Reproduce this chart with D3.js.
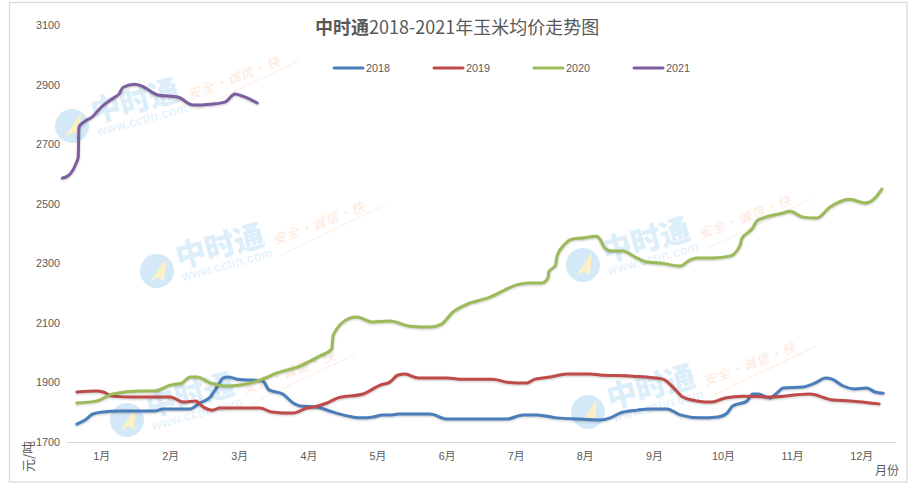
<!DOCTYPE html>
<html>
<head>
    <meta charset="utf-8">
    <title>中时通2018-2021年玉米均价走势图</title>
    <script src="https://cdn.jsdelivr.net/npm/d3@7"></script>
    <style>
    html, body { margin: 0; padding: 0; background: #fff; }
    svg { display: block; }
    text { font-family: "Liberation Sans", "Noto Sans CJK SC", sans-serif; fill: #595959; }
    .cjk { font-family: "Noto Sans CJK SC", sans-serif; }
    .line {
        fill: none;
        stroke-width: 3px;
        stroke-linejoin: round;
        stroke-linecap: round;
        filter: drop-shadow(0 1.5px 1px rgba(0,0,0,0.22));
    }
    .axis path { stroke: #d9d9d9; stroke-width: 1.2px; }
    .axis text { font-size: 10.8px; fill: #595959; }
    </style>
</head>
<body>
  <script>

  // x values are positions on the month axis, 1 = middle of January
  var months = [1, 2, 3, 4, 5, 6, 7, 8, 9, 10, 11, 12];
  var yTicks = [1700, 1900, 2100, 2300, 2500, 2700, 2900, 3100];
  var years = ['2018', '2019', '2020', '2021'];
  var colors = ['#4a7ebb', '#be4b48', '#9bbb59', '#7d5fa0'];

  var x2018 = [0.65,0.77,0.88,1.03,1.27,1.67,1.78,1.90,2.29,2.43,2.58,2.68,2.77,2.84,2.97,3.34,3.43,3.63,3.78,3.88,4.13,4.31,4.50,4.75,4.94,5.08,5.21,5.30,5.76,6.01,6.87,7.11,7.31,7.60,7.89,8.22,8.37,8.51,8.76,8.94,9.19,9.38,9.67,9.93,10.06,10.14,10.35,10.43,10.51,10.68,10.78,10.87,11.16,11.36,11.48,11.58,11.74,11.91,12.08,12.20,12.32];
  var price2018 = [1760,1774,1794,1801,1804,1804,1804,1811,1811,1831,1851,1885,1915,1918,1911,1905,1875,1861,1831,1821,1817,1804,1791,1781,1784,1791,1791,1794,1794,1777,1777,1791,1791,1781,1777,1774,1781,1797,1807,1811,1811,1791,1781,1784,1797,1821,1838,1861,1861,1848,1864,1881,1885,1901,1915,1911,1888,1878,1881,1868,1864];

  var x2019 = [0.65,0.94,1.03,1.17,1.46,2.00,2.19,2.37,2.48,2.61,2.72,3.30,3.47,3.78,3.98,4.07,4.27,4.43,4.79,5.04,5.18,5.30,5.40,5.59,6.01,6.19,6.67,6.87,7.16,7.28,7.50,7.74,8.08,8.22,8.70,9.13,9.26,9.42,9.62,9.84,10.03,10.29,10.68,11.26,11.59,11.84,12.26];
  var price2019 = [1868,1871,1868,1854,1851,1851,1834,1838,1817,1807,1814,1814,1801,1797,1814,1817,1831,1848,1861,1891,1901,1925,1928,1915,1915,1911,1911,1901,1898,1911,1918,1928,1928,1925,1921,1911,1888,1851,1838,1834,1848,1854,1851,1861,1841,1838,1828];

  var x2020 = [0.65,0.94,1.17,1.56,1.78,2.00,2.17,2.29,2.39,2.58,2.82,3.01,3.30,3.55,3.88,4.17,4.34,4.36,4.60,4.70,4.92,5.18,5.47,5.76,5.93,6.09,6.30,6.59,7.06,7.21,7.38,7.47,7.48,7.58,7.60,7.71,7.81,7.97,8.17,8.22,8.29,8.39,8.55,8.73,8.90,9.09,9.38,9.52,9.62,9.86,10.10,10.25,10.27,10.43,10.49,10.58,10.87,10.97,11.16,11.36,11.55,11.84,12.05,12.20,12.30];
  var price2020 = [1831,1838,1861,1871,1871,1891,1898,1918,1918,1898,1888,1891,1908,1932,1955,1989,2012,2059,2116,2120,2103,2106,2089,2086,2096,2136,2163,2183,2230,2234,2234,2250,2271,2294,2324,2364,2381,2385,2391,2381,2351,2341,2341,2321,2304,2301,2291,2311,2318,2318,2324,2361,2381,2418,2442,2452,2469,2475,2455,2452,2489,2515,2502,2519,2549];

  var x2021 = [0.44,0.52,0.64,0.67,0.68,0.75,0.87,0.99,1.20,1.26,1.32,1.49,1.59,1.82,2.11,2.33,2.58,2.79,2.94,3.05,3.26];
  var price2021 = [2586,2593,2636,2656,2757,2774,2791,2821,2858,2868,2891,2901,2895,2865,2858,2831,2834,2841,2868,2861,2838];

  var xValues = [x2018, x2019, x2020, x2021];
  var priceValues = [price2018, price2019, price2020, price2021];

  // centre of each logo watermark
  var marks = [[72, 126], [157, 271], [583, 265], [127, 420], [588, 412]];

  var width = 913, height = 489;

  var svg = d3.select('body').append('svg')
      .attr('width', width)
      .attr('height', height);

  var x = d3.scaleLinear().domain([0.5, 12.5]).range([66.5, 895.7]);
  var y = d3.scaleLinear().domain([1700, 3100]).range([442, 25]);

  // outer frame
  svg.append('rect')
      .attr('x', 9.5).attr('y', 2.5)
      .attr('width', 897.5).attr('height', 479.5)
      .attr('fill', '#fff')
      .attr('stroke', '#d9d9d9')
      .attr('stroke-width', 1.2);

  // watermarks sit behind the lines
  var mark = svg.selectAll('.mark').data(marks).enter().append('g')
      .attr('class', 'mark')
      .attr('transform', function(d) { return 'translate(' + d[0] + ',' + d[1] + ')'; });

  mark.append('circle').attr('r', 17).attr('fill', '#d3e9f7');
  mark.append('path').attr('d', 'M9,-13 L-7,11 L1,6 L7,10 Z').attr('fill', '#fcf0c6');
  mark.append('text').attr('class', 'cjk')
      .attr('transform', 'translate(22,-3) rotate(-15)')
      .style('font-size', '30px').style('font-weight', 900).style('fill', '#dbeefa')
      .text('中时通');
  mark.append('text')
      .attr('transform', 'translate(26,10) rotate(-15)')
      .style('font-size', '13px').style('letter-spacing', '0.6px').style('fill', '#e0f0fa')
      .text('www.cctin.com');
  mark.append('text').attr('class', 'cjk')
      .attr('transform', 'translate(118,-26) rotate(-21)')
      .style('font-size', '13px').style('letter-spacing', '1px').style('font-style', 'italic').style('fill', '#fde8d9')
      .text('安全·诚信·快');
  mark.append('line')
      .attr('x1', 124).attr('y1', -16).attr('x2', 228).attr('y2', -66)
      .attr('stroke', '#feefe4').attr('stroke-width', 1.2);

  // axes
  svg.append('g')
      .attr('class', 'axis')
      .attr('transform', 'translate(0,442)')
      .call(d3.axisBottom(x).tickValues(months).tickSize(0).tickPadding(10)
          .tickFormat(function(d) { return d + '月'; }));

  var yAxis = svg.append('g')
      .attr('class', 'axis')
      .attr('transform', 'translate(63,0)')
      .call(d3.axisLeft(y).tickValues(yTicks).tickSize(0).tickPadding(3).tickFormat(d3.format('d')));
  yAxis.select('.domain').remove();

  // series
  var line = d3.line()
      .x(function(d) { return x(d[0]); })
      .y(function(d) { return y(d[1]); })
      .curve(d3.curveMonotoneX);

  years.forEach(function(year, i) {
      svg.append('path')
          .attr('class', 'line')
          .attr('d', line(d3.zip(xValues[i], priceValues[i])))
          .attr('stroke', colors[i]);
  });

  // title, regular after the bold name
  var title = svg.append('text')
      .attr('x', 315).attr('y', 34)
      .attr('class', 'cjk')
      .style('font-size', '18px');
  title.append('tspan').style('font-weight', 700).text('中时通');
  title.append('tspan').text('2018-2021年玉米均价走势图');

  // legend
  var legend = svg.selectAll('.legend').data(years).enter().append('g')
      .attr('class', 'legend')
      .attr('transform', function(d, i) { return 'translate(' + (334 + i * 100) + ',68)'; });
  legend.append('line')
      .attr('x1', 0).attr('x2', 29)
      .attr('stroke', function(d, i) { return colors[i]; })
      .attr('stroke-width', 3)
      .attr('stroke-linecap', 'round');
  legend.append('text')
      .attr('x', 32).attr('y', 4)
      .style('font-size', '10.8px')
      .text(function(d) { return d; });

  // axis titles
  svg.append('text').attr('class', 'cjk')
      .attr('transform', 'translate(33,472) rotate(-90)')
      .style('font-size', '13px')
      .text('元/吨');
  svg.append('text').attr('class', 'cjk')
      .attr('x', 875).attr('y', 475)
      .style('font-size', '12px')
      .text('月份');

</script>
</body>
</html>
